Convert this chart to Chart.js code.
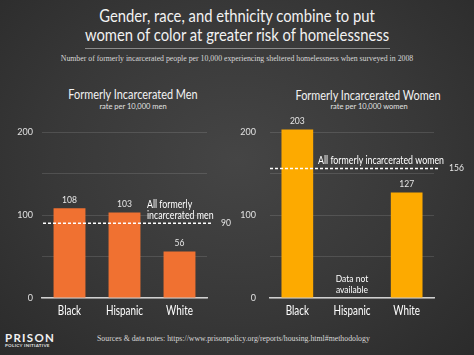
<!DOCTYPE html>
<html><head><meta charset="utf-8">
<script src="https://cdn.jsdelivr.net/npm/chart.js@4"></script>
<style>
html,body{margin:0;padding:0;}
body{width:474px;height:355px;position:relative;overflow:hidden;
background:radial-gradient(ellipse at 50% 45%, #454545 0%, #383838 55%, #2b2b2b 100%);
font-family:Lato, sans-serif;color:#fff;}
.t{position:absolute;white-space:nowrap;}
canvas{position:absolute;}
</style></head><body>
<div class="t" style="left:0;width:474px;top:6px;text-align:center;font-size:17px;line-height:19px;color:#f2f2f2;transform:scaleX(0.87);transform-origin:50% 50%;">Gender, race, and ethnicity combine to put<br>women of color at greater risk of homelessness</div>
<div style="position:absolute;left:85px;top:48px;width:305px;height:1px;background:#8a8a8a;"></div>
<div class="t" style="left:0;width:474px;top:54px;text-align:center;font-family:'Liberation Serif',serif;font-size:7.8px;color:#d8d8d8;">Number of formerly incarcerated people per 10,000 experiencing sheltered homelessness when surveyed in 2008</div>
<div class="t" style="left:33px;width:200px;top:86px;text-align:center;font-size:13px;color:#f2f2f2;transform:scaleX(0.84);transform-origin:50% 50%;">Formerly Incarcerated Men</div>
<div class="t" style="left:33px;width:200px;top:102px;text-align:center;font-size:7.5px;color:#e0e0e0;">rate per 10,000 men</div>
<div class="t" style="left:268px;width:200px;top:87px;text-align:center;font-size:13px;color:#f2f2f2;transform:scaleX(0.84);transform-origin:50% 50%;">Formerly Incarcerated Women</div>
<div class="t" style="left:269px;width:200px;top:102px;text-align:center;font-size:7.5px;color:#e0e0e0;">rate per 10,000 women</div>
<canvas id="c1" width="237" height="218" style="left:0;top:110px;"></canvas>
<canvas id="c2" width="237" height="218" style="left:237px;top:110px;"></canvas>
<div class="t" style="left:5px;top:331px;font-size:11.5px;line-height:13px;font-weight:bold;letter-spacing:1.3px;color:#f2f2f2;">PRISON</div>
<div class="t" style="left:5px;top:343px;font-size:4.5px;line-height:5px;font-weight:bold;letter-spacing:0.3px;color:#e0e0e0;">POLICY INITIATIVE</div>
<div class="t" style="left:97px;top:334px;font-family:'Liberation Serif',serif;font-size:7.8px;color:#d8d8d8;">Sources &amp; data notes: https://www.prisonpolicy.org/reports/housing.html#methodology</div>
<script>
const categories = ["Black", "Hispanic", "White"];
const menRates = [108, 103, 56];
const womenRates = [203, null, 127];
const menAverage = 90;
const womenAverage = 156;
const yTicks = [0, 100, 200];

function sText(ctx, txt, x, y, font, align, sx) {
  ctx.save();
  ctx.font = font;
  ctx.textAlign = align;
  ctx.textBaseline = 'middle';
  ctx.translate(x, y);
  ctx.scale(sx, 1);
  ctx.fillText(txt, 0, 0);
  ctx.restore();
}

const overlay = {
  id: 'overlay',
  afterDatasetsDraw(chart, args, opts) {
    const ctx = chart.ctx, x = chart.scales.x, y = chart.scales.y;
    const meta = chart.getDatasetMeta(0);
    const ca = chart.chartArea;
    ctx.save();
    ctx.fillStyle = '#e6e6e6';
    chart.data.datasets[0].data.forEach((v, i) => {
      if (v == null) return;
      const el = meta.data[i];
      sText(ctx, String(v), el.x, y.getPixelForValue(v) - 8, '9px Lato, sans-serif', 'center', 0.95);
    });
    // category labels
    ctx.fillStyle = '#ffffff';
    chart.data.labels.forEach((l, i) => {
      sText(ctx, l, x.getPixelForValue(i), ca.bottom + 13, '13px Lato, sans-serif', 'center', 0.76);
    });
    // dashed average line
    const ay = y.getPixelForValue(opts.avg);
    ctx.strokeStyle = '#ffffff';
    ctx.lineWidth = 1.5;
    ctx.setLineDash([3, 2]);
    ctx.beginPath();
    ctx.moveTo(ca.left + opts.dashStart, ay);
    ctx.lineTo(ca.right + opts.dashExtra, ay);
    ctx.stroke();
    ctx.setLineDash([]);
    ctx.fillStyle = '#e6e6e6';
    sText(ctx, String(opts.avg), ca.right + opts.labelOffset, ay, '9px Lato, sans-serif', 'left', 0.95);
    // annotation
    ctx.fillStyle = '#ffffff';
    opts.annLines.forEach((l, i) => {
      sText(ctx, l, opts.annX, ay - opts.annUp + i * 11, '11px Lato, sans-serif', opts.annAlign, 0.8);
    });
    if (opts.missing) {
      const mx = x.getPixelForValue(1);
      sText(ctx, 'Data not', mx, ca.bottom - 19, '10px Lato, sans-serif', 'center', 0.85);
      sText(ctx, 'available', mx, ca.bottom - 8, '10px Lato, sans-serif', 'center', 0.85);
    }
    ctx.restore();
  }
};

function makeChart(id, data, color, yWidth, tickPad, rightPad, ov) {
  return new Chart(document.getElementById(id), {
    type: 'bar',
    data: { labels: categories, datasets: [{ data: data, backgroundColor: color, borderWidth: 0,
      categoryPercentage: 1, barPercentage: 0.58, clip: false }] },
    options: {
      responsive: false, animation: false,
      layout: { padding: { top: 22, right: rightPad, left: 0, bottom: 0 } },
      plugins: { legend: { display: false }, tooltip: { enabled: false }, overlay: ov },
      scales: {
        x: {
          grid: { display: false, drawTicks: false },
          border: { color: '#d0d0d0', width: 1.5 },
          ticks: { display: false },
          afterFit(s) { s.height = 30; }
        },
        y: {
          min: 0, max: 200,
          grid: { color: 'rgba(255,255,255,0.12)', drawTicks: false, lineWidth: 1 },
          border: { display: false },
          ticks: { stepSize: 50, padding: tickPad, color: '#e0e0e0', font: { size: 9, family: 'Lato, sans-serif' },
            callback: v => yTicks.includes(v) ? String(v) : '' },
          afterFit(s) { s.width = yWidth; }
        }
      }
    },
    plugins: [overlay]
  });
}

makeChart('c1', menRates, '#f07131', 42, 9, 30,
  { avg: menAverage, dashStart: 1, dashExtra: 5, labelOffset: 14, annLines: ['All formerly', 'incarcerated men'], annX: 147, annAlign: 'left', annUp: 19, missing: false });
makeChart('c2', womenRates, '#fdaa00', 33, 14, 40,
  { avg: womenAverage, dashStart: 0, dashExtra: 6, labelOffset: 15, annLines: ['All formerly incarcerated women'], annX: 144, annAlign: 'center', annUp: 8, missing: true });
</script>
</body></html>
